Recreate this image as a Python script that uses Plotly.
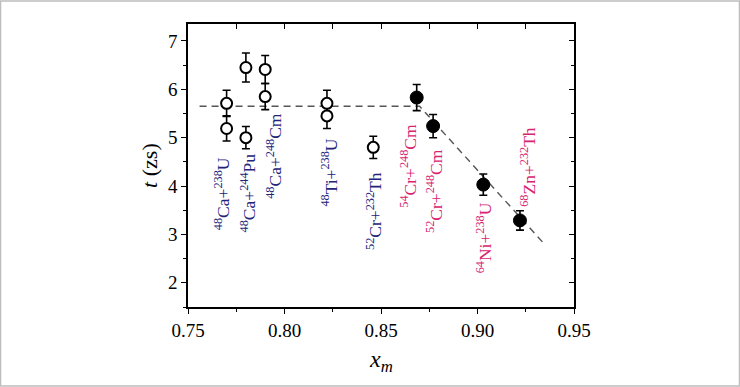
import plotly.graph_objects as go

# ---- data ----
x_open = [0.770, 0.770, 0.780, 0.780, 0.790, 0.790, 0.822, 0.822, 0.846]
t_open = [5.71, 5.19, 6.45, 5.00, 6.41, 5.85, 5.71, 5.45, 4.80]
err_open = [0.27, 0.26, 0.30, 0.23, 0.29, 0.27, 0.27, 0.26, 0.23]

x_fill = [0.8685, 0.877, 0.903, 0.922]
t_fill = [5.83, 5.24, 4.03, 3.29]
err_fill = [0.27, 0.24, 0.22, 0.20]

fit_x = [0.756, 0.870, 0.934]
fit_t = [5.65, 5.65, 2.83]

labels_open = ["<sup>48</sup>Ca+<sup>238</sup>U", "<sup>48</sup>Ca+<sup>244</sup>Pu",
               "<sup>48</sup>Ca+<sup>248</sup>Cm", "<sup>48</sup>Ti+<sup>238</sup>U",
               "<sup>52</sup>Cr+<sup>232</sup>Th"]
labels_open_x = [0.7674, 0.7812, 0.7944, 0.8230, 0.8463]
labels_open_top = [4.64, 4.71, 5.55, 5.02, 4.33]

labels_fill = ["<sup>54</sup>Cr+<sup>248</sup>Cm", "<sup>52</sup>Cr+<sup>248</sup>Cm",
               "<sup>64</sup>Ni+<sup>238</sup>U", "<sup>68</sup>Zn+<sup>232</sup>Th"]
labels_fill_x = [0.8640, 0.8775, 0.9032, 0.9260]
labels_fill_top = [5.33, 4.81, 3.71, 5.26]

x_range = [0.75, 0.95]
y_range = [1.5, 7.35]
x_ticks = [0.75, 0.80, 0.85, 0.90, 0.95]
x_ticklabels = ["0.75", "0.80", "0.85", "0.90", "0.95"]
y_ticks = [2, 3, 4, 5, 6, 7]

FONT = "Liberation Serif"
NAVY = "#23237a"
MAGENTA = "#d8246f"

fig = go.Figure()

fig.add_trace(go.Scatter(x=fit_x, y=fit_t, mode="lines",
                         line=dict(color="#555555", width=1.4, dash="7px,5px"),
                         hoverinfo="skip", showlegend=False))

fig.add_trace(go.Scatter(x=x_open, y=t_open, mode="markers",
                         marker=dict(symbol="circle", size=11, color="white",
                                     line=dict(color="black", width=2)),
                         error_y=dict(type="data", array=err_open, visible=True,
                                      color="black", thickness=1.6, width=4),
                         showlegend=False))

fig.add_trace(go.Scatter(x=x_fill, y=t_fill, mode="markers",
                         marker=dict(symbol="circle", size=13, color="black",
                                     line=dict(color="black", width=1)),
                         error_y=dict(type="data", array=err_fill, visible=True,
                                      color="black", thickness=1.6, width=4),
                         showlegend=False))

# dummy trace for mirrored (top/right) axes
fig.add_trace(go.Scatter(x=[None], y=[None], xaxis="x2", yaxis="y2",
                         showlegend=False, hoverinfo="skip"))

for txt, xv, yv in zip(labels_open, labels_open_x, labels_open_top):
    fig.add_annotation(x=xv, y=yv, xref="x", yref="y", text=txt, textangle=-90,
                       showarrow=False, xanchor="center", yanchor="top",
                       font=dict(family=FONT, size=17.5, color=NAVY))
for txt, xv, yv in zip(labels_fill, labels_fill_x, labels_fill_top):
    fig.add_annotation(x=xv, y=yv, xref="x", yref="y", text=txt, textangle=-90,
                       showarrow=False, xanchor="center", yanchor="top",
                       font=dict(family=FONT, size=17.5, color=MAGENTA))

# axis titles
fig.add_annotation(x=-0.10, y=0.50, xref="paper", yref="paper",
                   text="<i>t</i> (zs)", textangle=-90, showarrow=False,
                   xanchor="center", yanchor="middle",
                   font=dict(family=FONT, size=22, color="black"))
fig.add_annotation(x=0.50, y=-0.19, xref="paper", yref="paper",
                   text="<i>x<sub>m</sub></i>", showarrow=False,
                   xanchor="center", yanchor="middle",
                   font=dict(family=FONT, size=24, color="black"))

axis_common = dict(showgrid=False, zeroline=False, showline=True,
                   linecolor="black", linewidth=1.5,
                   tickcolor="black", tickwidth=1.3, ticklen=5)

fig.update_layout(
    width=740, height=387,
    margin=dict(l=188, r=166, t=24, b=80),
    paper_bgcolor="white", plot_bgcolor="white",
    font=dict(family=FONT, size=19, color="black"),
    xaxis=dict(range=x_range, tickvals=x_ticks, ticktext=x_ticklabels,
               ticks="outside",
               minor=dict(ticks="outside", dtick=0.025, tick0=0.75, ticklen=3,
                          tickcolor="black", tickwidth=1.3),
               tickfont=dict(family=FONT, size=19), **axis_common),
    yaxis=dict(range=y_range, tickvals=y_ticks, ticks="outside",
               minor=dict(ticks="outside", dtick=0.5, tick0=1.5, ticklen=3,
                          tickcolor="black", tickwidth=1.3),
               tickfont=dict(family=FONT, size=19), **axis_common),
    xaxis2=dict(range=x_range, overlaying="x", side="top", anchor="y",
                tickvals=x_ticks, ticks="inside", showticklabels=False,
                minor=dict(ticks="inside", dtick=0.025, tick0=0.75, ticklen=5,
                           tickcolor="black", tickwidth=1.3),
                **axis_common),
    yaxis2=dict(range=y_range, overlaying="y", side="right", anchor="x",
                tickvals=y_ticks, ticks="inside", showticklabels=False,
                minor=dict(ticks="inside", dtick=0.5, tick0=1.5, ticklen=3,
                           tickcolor="black", tickwidth=1.3),
                **axis_common),
)

# light grey frame around the whole image
pw = 740 - 188 - 166
ph = 387 - 24 - 80
fig.add_shape(type="rect", xref="paper", yref="paper",
              x0=(0.5 - 188) / pw, x1=(739.5 - 188) / pw,
              y0=(ph + 24 - 386.0) / ph, y1=(ph + 24 - 1.0) / ph,
              line=dict(color="#bdbdbd", width=1.5), fillcolor="rgba(0,0,0,0)",
              layer="below")

fig.write_html("out.html", config={"displayModeBar": False},
               post_script="document.body.style.margin='0';document.body.style.padding='0';")
